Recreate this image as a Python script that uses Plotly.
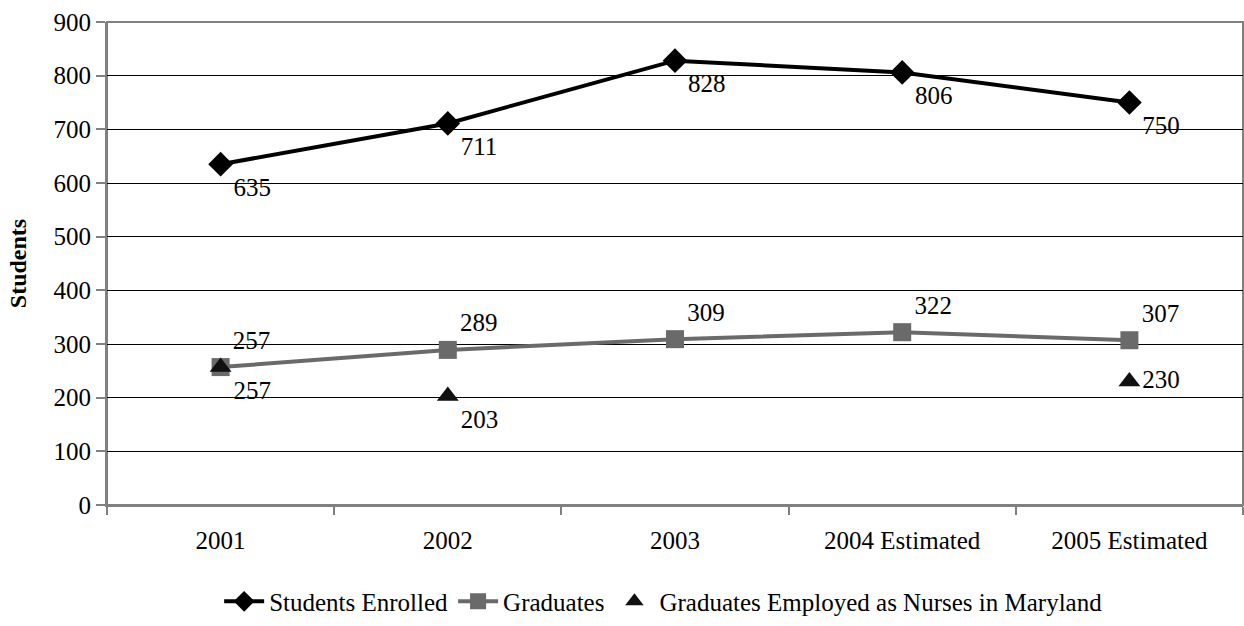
import plotly.graph_objects as go

years = ["2001", "2002", "2003", "2004 Estimated", "2005 Estimated"]
enrolled = [635, 711, 828, 806, 750]
graduates = [257, 289, 309, 322, 307]
employed = [257, 203, None, None, 230]

FONT = "'Liberation Serif', 'Times New Roman', serif"
FS = 25

fig = go.Figure()

fig.add_trace(go.Scatter(
    x=years, y=enrolled, name="Students Enrolled",
    mode="lines+markers+text",
    line=dict(color="#000000", width=4),
    marker=dict(symbol="diamond", size=19, color="#000000"),
    text=[str(v) for v in enrolled],
    textposition="bottom right",
    textfont=dict(family=FONT, size=FS, color="#000000"),
))

fig.add_trace(go.Scatter(
    x=years, y=graduates, name="Graduates",
    mode="lines+markers+text",
    line=dict(color="#6a6a6a", width=4),
    marker=dict(symbol="square", size=18, color="#6a6a6a"),
    text=[str(v) for v in graduates],
    textposition="top right",
    textfont=dict(family=FONT, size=FS, color="#000000"),
))

fig.add_trace(go.Scatter(
    x=years, y=employed, name="Graduates Employed as Nurses in Maryland",
    mode="markers+text",
    marker=dict(symbol="triangle-up", size=19, color="#111111"),
    text=["" if v is None else str(v) for v in employed],
    textposition=["bottom right", "bottom right", "middle right", "middle right", "middle right"],
    textfont=dict(family=FONT, size=FS, color="#000000"),
))

fig.update_layout(
    width=1244, height=626,
    margin=dict(l=107, r=1, t=22, b=119),
    paper_bgcolor="white", plot_bgcolor="white",
    font=dict(family=FONT, size=FS, color="#000000"),
    showlegend=True,
    legend=dict(
        orientation="h", x=0.49, xanchor="center", y=-0.2, yanchor="middle",
        font=dict(family=FONT, size=FS, color="#000000"),
        itemwidth=40, tracegroupgap=0,
    ),
)

fig.update_xaxes(
    type="category", range=[-0.5, 4.5], showgrid=False,
    showline=True, linecolor="#808080", linewidth=2,
    ticks="outside", tickson="boundaries", ticklen=8, tickcolor="#808080", tickwidth=2,
    ticklabelstandoff=12,
    tickfont=dict(family=FONT, size=FS),
    mirror=False,
)

fig.update_yaxes(
    range=[0, 900], dtick=100,
    showgrid=True, gridcolor="#000000", gridwidth=1,
    showline=True, linecolor="#808080", linewidth=2,
    ticks="outside", ticklen=9, tickcolor="#808080", tickwidth=2,
    tickfont=dict(family=FONT, size=FS),
    title=dict(text="<b>Students</b>", font=dict(family=FONT, size=FS - 1), standoff=20),
    zeroline=False,
)

# frame around the plotting area
fig.add_shape(type="rect", xref="paper", yref="paper", x0=0, y0=0, x1=1, y1=1,
              line=dict(color="#808080", width=2), layer="below")

fig.write_html("out.html")
